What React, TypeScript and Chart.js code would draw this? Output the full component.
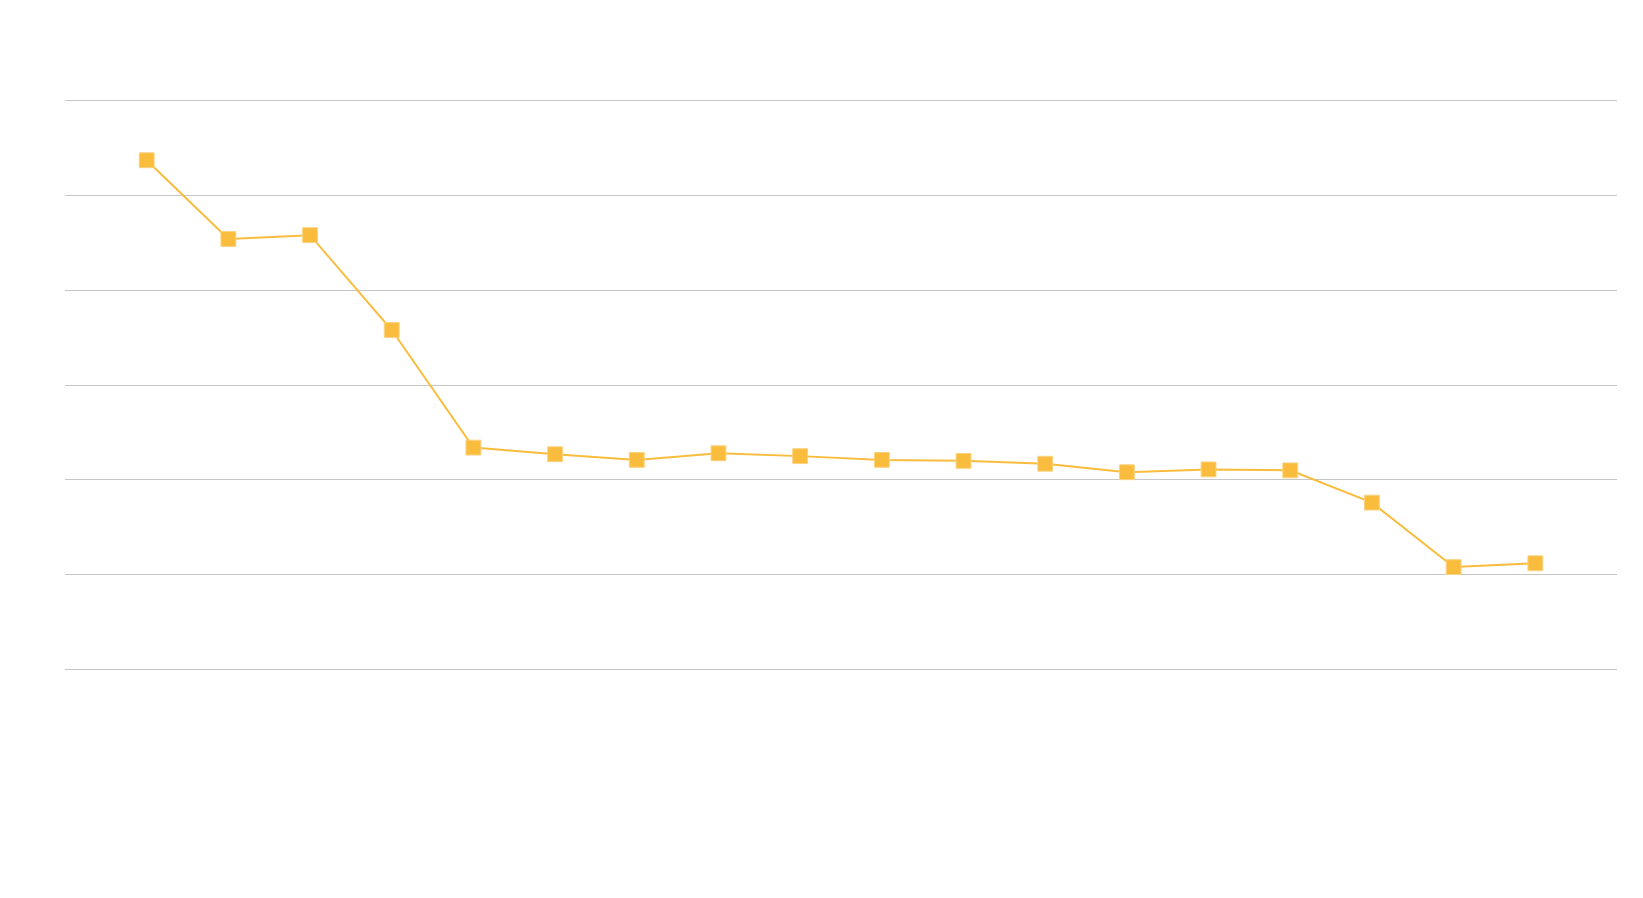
import React, { useEffect, useRef } from "react";
import { Chart, registerables } from "chart.js";

Chart.register(...registerables);

const categories: string[] = [
  "", "1", "2", "3", "4", "5", "6", "7", "8", "9", "10",
  "11", "12", "13", "14", "15", "16", "17", "18", "",
];
const seriesValues: (number | null)[] = [
  null, 53.7, 45.4, 45.8, 35.8, 23.4, 22.7, 22.1, 22.8, 22.5, 22.1,
  22.0, 21.7, 20.8, 21.1, 21.0, 17.6, 10.8, 11.2, null,
];
const yTicks: number[] = [0, 10, 20, 30, 40, 50, 60];

export default function App() {
  const ref = useRef<HTMLCanvasElement | null>(null);
  useEffect(() => {
    if (!ref.current) return;
    const color = "#F9BC3D";
    const chart = new Chart(ref.current, {
      type: "line",
      data: {
        labels: categories,
        datasets: [
          {
            label: "Series",
            data: seriesValues,
            borderColor: color,
            backgroundColor: color,
            borderWidth: 2,
            pointStyle: "rect",
            pointRadius: 10.5,
            pointHoverRadius: 10.5,
            pointBorderWidth: 1,
            pointBorderColor: "#FBD27F",
            tension: 0,
            spanGaps: false,
          },
        ],
      },
      options: {
        animation: false,
        responsive: true,
        maintainAspectRatio: false,
        layout: { padding: { top: 92.5, right: 18, left: 0, bottom: 0 } },
        plugins: {
          legend: { display: false },
          tooltip: { enabled: false },
        },
        scales: {
          x: {
            grid: { display: false, drawTicks: false },
            border: { display: false },
            ticks: { color: "#ffffff", font: { family: "Roboto", size: 14 } },
            afterFit: (s: any) => {
              s.height = 220.5;
            },
          },
          y: {
            min: yTicks[0],
            max: yTicks[yTicks.length - 1],
            afterBuildTicks: (s: any) => {
              s.ticks = yTicks.map((v) => ({ value: v }));
            },
            grid: { color: "#C6C6C6", lineWidth: 1, drawTicks: false },
            border: { display: false },
            ticks: { color: "#ffffff", font: { family: "Roboto", size: 14 }, padding: 8 },
            afterFit: (s: any) => {
              s.width = 57;
            },
          },
        },
      },
    });
    return () => chart.destroy();
  }, []);
  return (
    <div style={{ width: 1627, height: 882, position: "relative" }}>
      <canvas ref={ref} />
    </div>
  );
}
